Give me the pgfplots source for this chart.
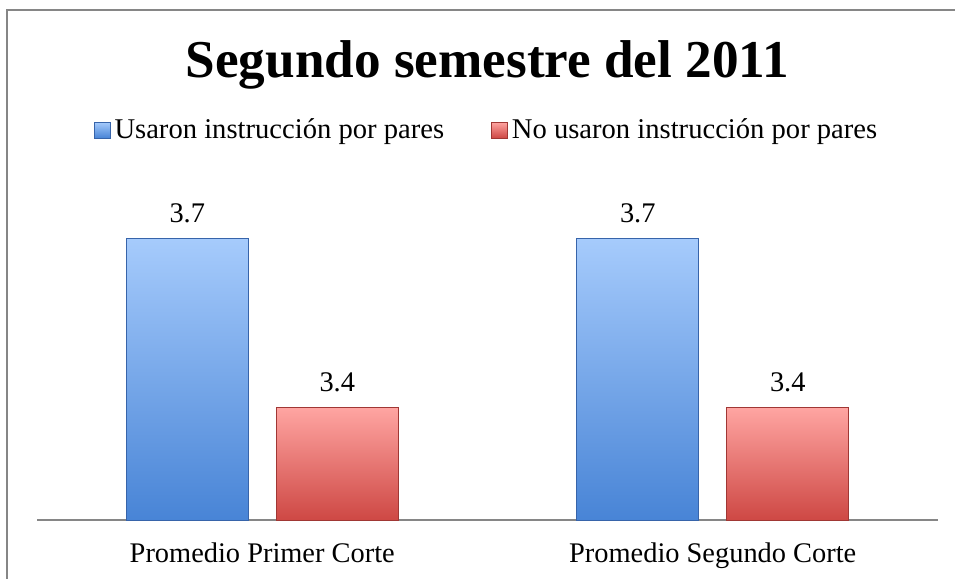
\documentclass[border=0pt]{standalone}
\usepackage{pgfplots}
\pgfplotsset{compat=1.18}
\usepackage{fontspec}
\setmainfont{Liberation Serif}
\definecolor{bluetop}{RGB}{166,203,252}
\definecolor{bluebot}{RGB}{72,132,214}
\definecolor{blueedge}{RGB}{55,100,170}
\definecolor{redtop}{RGB}{255,165,162}
\definecolor{redbot}{RGB}{206,72,68}
\definecolor{rededge}{RGB}{160,55,52}
\definecolor{framegray}{RGB}{134,134,134}
\begin{document}
\begin{tikzpicture}
\begin{axis}[
 at={(18.5pt,-260pt)}, anchor=south west,
 scale only axis, width=450.5pt, height=169pt,
 xmin=-0.5, xmax=1.5, ymin=3.2, ymax=3.8,
 axis y line=none, axis x line*=bottom,
 x axis line style={framegray, line width=0.75pt},
 xtick={0,1}, xticklabels={Promedio Primer Corte, Promedio Segundo Corte},
 major tick length=0pt,
 xticklabel style={font=\fontsize{14.2}{16}\selectfont, yshift=-8pt},
 ybar=14pt, bar width=61pt,
 nodes near coords,
 /pgf/number format/assume math mode=true,
 every node near coord/.append style={text=black, font=\fontsize{14.2}{16}\selectfont, yshift=4pt, /pgf/number format/fixed, /pgf/number format/precision=1, /pgf/number format/fixed zerofill, /pgf/number format/assume math mode=true},
 title={Segundo semestre del 2011},
 title style={font=\fontsize{26.6}{30}\selectfont\bfseries, at={(0.5,1)}, anchor=base, yshift=46.5pt},
 legend columns=2,
 legend style={draw=none, fill=none, at={(0.5,1.1538)}, anchor=center, font=\fontsize{14.3}{16}\selectfont, /tikz/every even column/.append style={column sep=21.5pt}},
 clip=false,
]
\addplot[draw=blueedge, top color=bluetop, bottom color=bluebot, legend image code/.code={\path[draw=blueedge, top color=bluetop, bottom color=bluebot] (0pt,-4pt) rectangle (8pt,4pt);}] coordinates {(0,3.7) (1,3.7)};
\addplot[draw=rededge, top color=redtop, bottom color=redbot, legend image code/.code={\path[draw=rededge, top color=redtop, bottom color=redbot] (0pt,-4pt) rectangle (8pt,4pt);}] coordinates {(0,3.4) (1,3.4)};
\legend{Usaron instrucción por pares, No usaron instrucción por pares}
\end{axis}
\pgfresetboundingbox
\path[use as bounding box] (0,0) rectangle (477.5pt,-289.5pt);
\draw[framegray, line width=0.75pt] (3.5pt,-300pt) -- (3.5pt,-5pt) -- (490pt,-5pt);
\end{tikzpicture}
\end{document}
